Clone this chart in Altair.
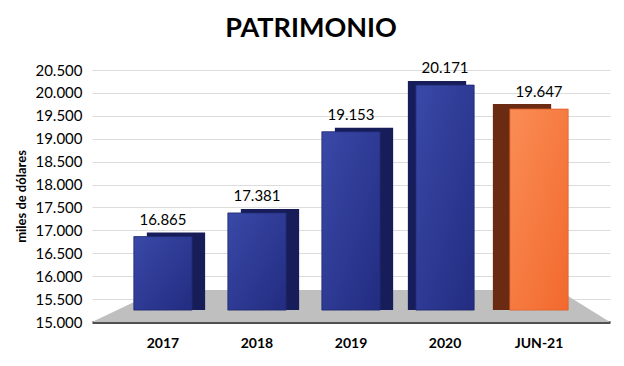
import altair as alt
import pandas as pd

categorias = ["2017", "2018", "2019", "2020", "JUN-21"]
valores = [16865, 17381, 19153, 20171, 19647]
etiquetas = ["16.865", "17.381", "19.153", "20.171", "19.647"]
ticks_y = [15000, 15500, 16000, 16500, 17000, 17500, 18000, 18500, 19000, 19500, 20000, 20500]
BASE = 15260
piso_x = [0.0, 0.13, 0.90, 1.0]
piso_y = [15000, 15700, 15700, 15000]

df = pd.DataFrame({"cat": categorias, "valor": valores, "etiqueta": etiquetas, "base": [BASE] * len(categorias)})
piso = pd.DataFrame({"px": piso_x, "py": piso_y, "py2": [15000] * len(piso_x)})

W, H = 518, 252
FONT = "Lato"

xscale = alt.Scale(domain=categorias, paddingInner=0.38, paddingOuter=0.445)
yscale = alt.Scale(domain=[15000, 20500], nice=False, zero=False)

y_axis = alt.Axis(values=ticks_y, labelExpr="replace(format(datum.value, ','), /,/g, '.')",
                  domain=False, ticks=False, labelPadding=10, labelFontSize=15,
                  labelColor="#000000", labelFont=FONT, gridColor="#DCDCDC",
                  titleFontWeight="bold", titleFontSize=13, titleFont=FONT,
                  titleColor="#000000", titlePadding=6)

x_enc = alt.X("cat:N", scale=xscale, sort=categorias, title=None,
              axis=alt.Axis(labelAngle=0, labelFontWeight="bold", labelFontSize=14, labelPadding=14,
                            ticks=False, domainColor="#505050", domainWidth=3, labelColor="#000000",
                            labelFont=FONT))
y_enc = alt.Y("valor:Q", scale=yscale, title="miles de dólares", axis=y_axis)

base = alt.Chart(df)

floor = alt.Chart(piso).mark_area(color="#BFBFBF", interpolate="linear").encode(
    x=alt.X("px:Q", scale=alt.Scale(domain=[0, 1], nice=False), axis=None),
    y=alt.Y("py:Q", scale=yscale, title="miles de dólares", axis=y_axis),
    y2="py2:Q",
)

side_right = base.transform_filter(
    alt.FieldOneOfPredicate(field="cat", oneOf=["2017", "2018", "2019"])
).mark_bar(color="#171D58", xOffset=13, yOffset=-4).encode(x=x_enc, y=y_enc, y2="base:Q")

side_left_blue = base.transform_filter(
    alt.FieldEqualPredicate(field="cat", equal="2020")
).mark_bar(color="#171D58", xOffset=-8, yOffset=-4).encode(x=x_enc, y=y_enc, y2="base:Q")

side_left_orange = base.transform_filter(
    alt.FieldEqualPredicate(field="cat", equal="JUN-21")
).mark_bar(color="#6B2A12", xOffset=-17, yOffset=-5).encode(x=x_enc, y=y_enc, y2="base:Q")

blue_grad = alt.LinearGradient(gradient="linear", x1=0, x2=1, y1=0, y2=1,
                               stops=[alt.GradientStop(color="#3A49A8", offset=0),
                                      alt.GradientStop(color="#222C80", offset=1)])
orange_grad = alt.LinearGradient(gradient="linear", x1=0, x2=1, y1=0, y2=1,
                                 stops=[alt.GradientStop(color="#FA8D55", offset=0),
                                        alt.GradientStop(color="#F2692D", offset=1)])

front_blue = base.transform_filter(
    alt.FieldOneOfPredicate(field="cat", oneOf=["2017", "2018", "2019", "2020"])
).mark_bar(color=blue_grad, stroke="#1E2870", strokeWidth=0.8).encode(x=x_enc, y=y_enc, y2="base:Q")

front_orange = base.transform_filter(
    alt.FieldEqualPredicate(field="cat", equal="JUN-21")
).mark_bar(color=orange_grad, stroke="#E0602A", strokeWidth=0.8).encode(x=x_enc, y=y_enc, y2="base:Q")

labels = base.mark_text(baseline="bottom", dy=-9, fontSize=15, font=FONT, color="#000000").encode(
    x=x_enc, y=y_enc, text="etiqueta:N")

bars = alt.layer(side_right, side_left_blue, side_left_orange, front_blue, front_orange, labels)

chart = alt.layer(floor, bars).resolve_scale(x="independent").properties(
    width=W, height=H,
    title=alt.TitleParams("PATRIMONIO", fontSize=27, font=FONT, fontWeight="bold", color="#000000",
                          anchor="middle", dx=-40, offset=18),
    autosize=alt.AutoSizeParams(type="none"),
    padding={"left": 84, "top": 62, "right": 6, "bottom": 36},
).configure_view(stroke=None)

chart.save("out.html", embed_options={"renderer": "svg", "actions": False})
